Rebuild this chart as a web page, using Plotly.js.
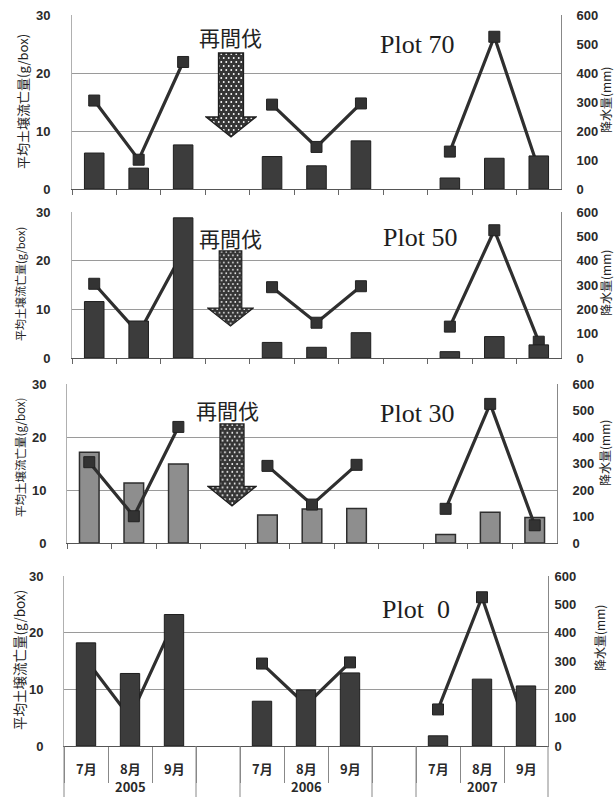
<!DOCTYPE html>
<html><head><meta charset="utf-8">
<script src="https://cdn.plot.ly/plotly-3.0.1.min.js"></script>
<style>html,body{margin:0;padding:0;background:#fff}#chart{width:614px;height:797px}</style>
</head><body><div id="chart"></div><script>
// ---- data ----
const years = ['2005','2005','2005',' ','2006','2006','2006','  ','2007','2007','2007'];
const months = ['7月','8月','9月',' ','7月','8月','9月',' ','7月','8月','9月'];
const rainfall = [305, 101, 438, null, 291, 145, 295, null, 129, 525, 67];
const soil70 = [6.2, 3.6, 7.6, null, 5.6, 4.0, 8.3, null, 1.9, 5.3, 5.7];
const soil50 = [11.6, 7.6, 28.8, null, 3.2, 2.2, 5.2, null, 1.3, 4.4, 2.7];
const soil30 = [17.1, 11.3, 14.9, null, 5.3, 6.4, 6.5, null, 1.6, 5.8, 4.8];
const soil0 = [18.2, 12.8, 23.2, null, 7.9, 9.9, 12.9, null, 1.8, 11.8, 10.6];
const plotNames = ['Plot 70', 'Plot 50', 'Plot 30', 'Plot\u00a0\u00a00'];
const thinningLabel = '再間伐';
const leftTitle = '平均土壌流亡量(g/box)';
const rightTitle = '降水量(mm)';

// ---- layout helpers (pixel -> paper) ----
const W = 614, H = 797;
const px = v => v / W;
const py = v => 1 - v / H;
const nCat = years.length;

const panels = [
  {soil: soil70, x0: 72, x1: 561, y0: 15, y1: 189, barsOnTop: true, fill: '#3c3c3c', edge: '#1e1e1e', ew: 1,
   rStand: 12, lStand: 18, ltFont: 13, lt: [22, 102], rt: [605, 100], name: [417, 45], thin: [230, 37], arrow: [205, 52, 52, 86]},
  {soil: soil50, x0: 72, x1: 561, y0: 212, y1: 358, barsOnTop: true, fill: '#3c3c3c', edge: '#1e1e1e', ew: 1,
   rStand: 12, lStand: 18, ltFont: 11, lt: [20, 284], rt: [605, 283], name: [420, 237], thin: [230, 238], arrow: [207, 250, 47, 77]},
  {soil: soil30, x0: 67, x1: 557, y0: 384, y1: 543, barsOnTop: false, fill: '#8e8e8e', edge: '#2e2e2e', ew: 1.5,
   rStand: 12, lStand: 17, ltFont: 11.5, lt: [20, 458], rt: [604, 453], name: [417, 413], thin: [227, 410], arrow: [207, 423, 50, 84]},
  {soil: soil0, x0: 64, x1: 548, y0: 576, y1: 746, barsOnTop: true, fill: '#3c3c3c', edge: '#1e1e1e', ew: 1,
   rStand: 3, lStand: 17, ltFont: 13.5, lt: [19, 660], rt: [599, 638], name: [416, 609], thin: null, arrow: null}
];

const tickFont = {family: 'Liberation Sans, Arial, sans-serif', size: 13, color: '#2a2a2a', weight: 'bold'};
const cjk = 'Noto Sans CJK JP, sans-serif';

function arrowSrc() {
  const svg = '<svg xmlns="http://www.w3.org/2000/svg" width="52" height="86" viewBox="0 0 52 86">' +
    '<defs><pattern id="d" width="5" height="8" patternUnits="userSpaceOnUse">' +
    '<rect width="5" height="8" fill="#353535"/>' +
    '<circle cx="1.25" cy="2" r="0.95" fill="#fff"/><circle cx="3.75" cy="6" r="0.95" fill="#fff"/></pattern></defs>' +
    '<polygon points="13.5,1 38.5,1 38.5,65 51,65 26,85 1,65 13.5,65" fill="url(#d)" stroke="#1e1e1e" stroke-width="1.3"/></svg>';
  return 'data:image/svg+xml;charset=utf-8,' + encodeURIComponent(svg);
}

const data = [];
const layout = {
  width: W, height: H,
  margin: {l: 0, r: 0, t: 0, b: 0, autoexpand: false},
  paper_bgcolor: '#fff', plot_bgcolor: '#fff',
  showlegend: false, bargap: 0.56, hovermode: false,
  annotations: [], images: [], shapes: []
};

panels.forEach((p, i) => {
  const n = i + 1;
  const xName = n === 1 ? 'x' : 'x' + n;
  const xKey = n === 1 ? 'xaxis' : 'xaxis' + n;
  const baseNum = 2 * i + 1, overNum = 2 * i + 2;
  const baseY = baseNum === 1 ? 'y' : 'y' + baseNum;
  const overY = 'y' + overNum;
  const baseKey = baseNum === 1 ? 'yaxis' : 'yaxis' + baseNum;
  const overKey = 'yaxis' + overNum;
  const barY = p.barsOnTop ? overY : baseY;
  const rainY = p.barsOnTop ? baseY : overY;
  const barKey = p.barsOnTop ? overKey : baseKey;
  const rainKey = p.barsOnTop ? baseKey : overKey;
  const isLast = i === panels.length - 1;

  data.push({
    type: 'bar', x: [years, months], y: p.soil, xaxis: xName, yaxis: barY,
    marker: {color: p.fill, line: {color: p.edge, width: p.ew}}
  }, {
    type: 'scatter', mode: 'lines+markers', x: [years, months], y: rainfall, xaxis: xName, yaxis: rainY,
    line: {color: '#2f2f2f', width: 3.2},
    marker: {symbol: 'square', size: 11, color: '#333', line: {color: '#222', width: 1}}
  });

  layout[xKey] = {
    type: 'multicategory', domain: [px(p.x0), px(p.x1)], anchor: baseY, range: [-0.5, nCat - 0.5],
    showline: true, linecolor: '#555', linewidth: 1, showgrid: false, zeroline: false,
    ticks: 'outside', tickson: 'boundaries', ticklen: isLast ? 36 : 5, tickcolor: isLast ? '#888' : '#666', tickwidth: 1,
    showticklabels: false, showdividers: false
  };

  const dom = [py(p.y1), py(p.y0)];
  const barAxis = {
    side: 'left', range: [0, 30], dtick: 10, tick0: 0,
    showgrid: true, gridcolor: '#9a9a9a', gridwidth: 1, zeroline: false,
    showline: true, linecolor: '#b0b0b0', linewidth: 1, ticks: '',
    tickfont: tickFont, ticklabelstandoff: p.lStand
  };
  const rainAxis = {
    side: 'right', range: [0, 600], dtick: 100, tick0: 0,
    showgrid: false, zeroline: false, showline: true, linecolor: '#888', linewidth: 1, ticks: '',
    tickfont: tickFont, ticklabelstandoff: p.rStand
  };
  if (p.barsOnTop) {
    rainAxis.domain = dom; rainAxis.anchor = xName;
    barAxis.overlaying = baseY; barAxis.anchor = xName;
  } else {
    barAxis.domain = dom; barAxis.anchor = xName;
    rainAxis.overlaying = baseY; rainAxis.anchor = xName;
  }
  layout[barKey] = barAxis;
  layout[rainKey] = rainAxis;

  layout.annotations.push(
    {text: leftTitle, xref: 'paper', yref: 'paper', x: px(p.lt[0]), y: py(p.lt[1]), xanchor: 'center', yanchor: 'middle',
     textangle: -90, showarrow: false, font: {family: cjk, size: p.ltFont, color: '#222'}},
    {text: rightTitle, xref: 'paper', yref: 'paper', x: px(p.rt[0]), y: py(p.rt[1]), xanchor: 'center', yanchor: 'middle',
     textangle: -90, showarrow: false, font: {family: cjk, size: 12, color: '#222'}},
    {text: plotNames[i], xref: 'paper', yref: 'paper', x: px(p.name[0]), y: py(p.name[1]), xanchor: 'center', yanchor: 'middle',
     showarrow: false, font: {family: 'Liberation Serif, serif', size: 26, color: '#1e1e1e'}}
  );
  if (p.thin) {
    layout.annotations.push({text: thinningLabel, xref: 'paper', yref: 'paper', x: px(p.thin[0]), y: py(p.thin[1]),
      xanchor: 'center', yanchor: 'middle', showarrow: false, font: {family: cjk, size: 21, color: '#222'}});
  }
  if (p.arrow) {
    const a = p.arrow;
    layout.images.push({source: arrowSrc(), xref: 'paper', yref: 'paper', x: px(a[0]), y: py(a[1]),
      sizex: a[2] / W, sizey: a[3] / H, xanchor: 'left', yanchor: 'top', sizing: 'stretch', layer: 'above'});
  }

  // two-level category labels under the bottom panel
  if (isLast) {
    const step = (p.x1 - p.x0) / nCat;
    const labFont = {family: cjk, size: 13, color: '#2a2a2a', weight: 'bold'};
    months.forEach((m, k) => {
      if (!m.trim()) return;
      layout.annotations.push({text: m, xref: 'paper', yref: 'paper', x: px(p.x0 + (k + 0.5) * step), y: py(p.y1 + 22),
        xanchor: 'center', yanchor: 'middle', showarrow: false, font: labFont});
    });
    let start = 0;
    for (let k = 1; k <= nCat; k++) {
      if (k === nCat || years[k] !== years[start]) {
        if (years[start].trim()) {
          layout.annotations.push({text: years[start], xref: 'paper', yref: 'paper',
            x: px(p.x0 + ((start + k) / 2) * step), y: py(p.y1 + 40),
            xanchor: 'center', yanchor: 'middle', showarrow: false, font: labFont});
        }
        start = k;
      }
    }
    for (let k = 0; k <= nCat; k++) {
      if (k === 0 || k === nCat || years[k - 1] !== years[k]) {
        const xx = px(p.x0 + k * step);
        layout.shapes.push({type: 'line', xref: 'paper', yref: 'paper', x0: xx, x1: xx, y0: py(p.y1), y1: 0,
          line: {color: '#888', width: 1}});
      }
    }
  }
});

Plotly.newPlot('chart', data, layout, {staticPlot: true, displayModeBar: false});
</script></body></html>
